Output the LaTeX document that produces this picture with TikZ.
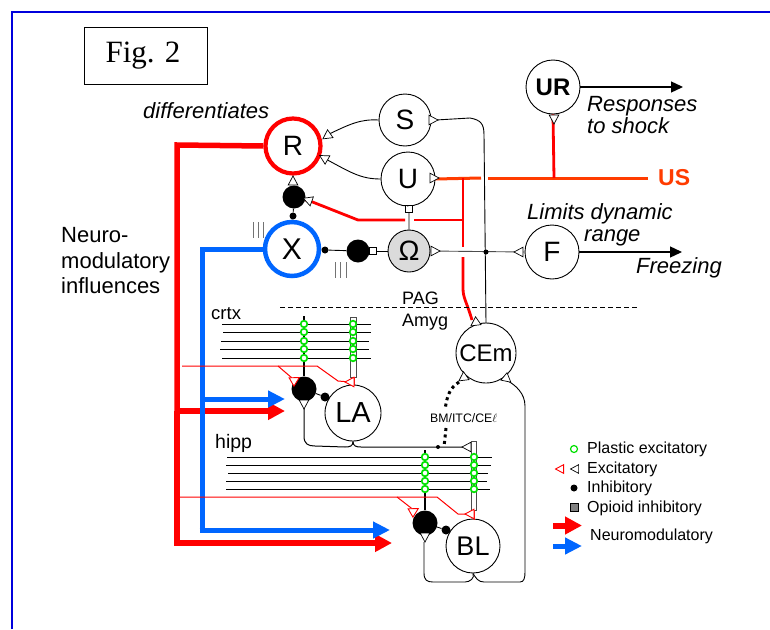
\documentclass[tikz,border=0pt]{standalone}
\usepackage{fontspec}
\setmainfont{Liberation Sans}
\newfontfamily\serifx{Liberation Serif}
\usetikzlibrary{arrows.meta}
\definecolor{nred}{RGB}{255,0,0}
\definecolor{usred}{RGB}{255,60,0}
\definecolor{nblue}{RGB}{0,102,255}
\definecolor{pgreen}{RGB}{0,225,0}
\newcommand{\fs}[1]{\fontsize{#1}{#1}\selectfont}
\tikzset{
 x=1pt,y=-1pt,
 cell/.style={circle,draw=black,line width=0.9pt,fill=white,inner sep=0pt,text=black},
 inh/.style={circle,fill=black,inner sep=0pt},
 sq/.style={rectangle,draw=black,line width=0.6pt,fill=#1,minimum size=6.5pt,inner sep=0pt},
 sq/.default=white,
 wire/.style={line width=0.9pt,black},
 fibre/.style={line width=0.9pt,black},
 usline/.style={line width=3pt,usred},
 redline/.style={line width=2.8pt,nred},
 thinred/.style={line width=1pt,nred},
 lab/.style={inner sep=0pt,anchor=west,text=black},
 tri/.pic={\draw[line width=0.7pt,draw=black,fill=white] (5,0)--(-4,-4.8)--(-4,4.8)--cycle;},
 rtri/.pic={\draw[line width=0.9pt,draw=nred,fill=white] (5,0)--(-4,-4.8)--(-4,4.8)--cycle;},
 syn/.style={circle,draw=pgreen,line width=1.7pt,fill=white,minimum size=6.6pt,inner sep=0pt},
 modr/.style={line width=6pt,nred,-{Triangle[length=17pt,width=17pt]}},
 modb/.style={line width=5pt,nblue,-{Triangle[length=17pt,width=16pt]}},
 outarrow/.style={line width=1.3pt,black,-{Triangle[length=12pt,width=11pt]}},
}
\begin{document}
\begin{tikzpicture}
\useasboundingbox (0,0) rectangle (770,629);
\fill[white] (0,0) rectangle (770,629);
% frame
\draw[line width=1.2pt,color={rgb,255:red,0;green,0;blue,220}] (12,629)--(12,12)--(770,12);
\node[draw=black,line width=0.9pt,minimum width=123pt,minimum height=57pt,inner sep=0pt,font=\serifx\fs{31}] (fig) at (145.5,55.5) {\hspace*{-5pt}Fig. 2};

% coordinates
\coordinate (RN) at (177,145);
\coordinate (BN) at (202,249);

% main cells
\node[cell,draw=nred,line width=4.2pt,minimum size=55pt,font=\fs{28}] (R) at (293,146) {R};
\node[cell,draw=nblue,line width=4.5pt,minimum size=54pt,font=\fs{30}] (X) at (292,249) {X};
\node[cell,minimum size=52pt,font=\fs{28}] (S) at (405,120) {S};
\node[cell,minimum size=54pt,font=\fs{28}] (U) at (408,179) {U};
\node[cell,fill=black!14,minimum size=42pt,font=\fs{28}] (O) at (409,251) {Ω};
\node[cell,minimum size=54pt,font=\bfseries\fs{24}] (UR) at (553,87) {UR};
\node[cell,minimum size=54pt,font=\fs{28}] (F) at (552,252) {F};
\node[cell,minimum size=60pt,font=\fs{24}] (CEm) at (486,353) {CEm};
\node[cell,minimum size=56pt,font=\fs{29}] (LA) at (353,413) {LA};
\node[cell,minimum size=54pt,font=\fs{27}] (BL) at (473,546) {BL};
\node[inh,minimum size=23pt] (I1) at (294,197) {};
\node[inh,minimum size=7pt] (i1) at (293,216) {};
\node[inh,minimum size=23pt] (I2) at (358,251) {};
\node[inh,minimum size=7pt] (i2) at (325,250) {};
\node[sq=white] (q2) at (373,251) {};
\node[sq=white] (q1) at (409,209) {};
\node[inh,minimum size=25pt] (I3) at (304,389) {};
\node[inh,minimum size=9pt] (i3) at (325,397) {};
\node[inh,minimum size=25pt] (I4) at (425,523) {};
\node[inh,minimum size=9pt] (i4) at (446,530) {};

% modulatory tracts
\draw[line width=5.5pt,nred] (R.west)--(RN)--(177,411);
\draw[line width=5pt,nblue] (X.west)--(BN)--(202,399);
\draw[line width=5.5pt,nred] (177,411)--(177,546);
\draw[modr] (174.3,543)--(392,543);
\draw[modr] (177,411)--(285,411);
\draw[line width=5pt,nblue] (202,399)--(202,530);
\draw[modb] (202,399)--(285,399);
\draw[modb] (199.5,530)--(390,530);

% thin connectors top
\draw[wire] (S.west) .. controls (360,119) and (350,124) .. (325,136);
\draw[wire] (U.west) .. controls (360,179) and (350,172) .. (322,157);
\draw[wire] (I1)--(i1)--(X.north);
\draw[wire] (X.east)--(i2)--(I2);
\draw[wire] (I2)--(q2)--(O.west);
\draw[wire] (U.south)--(q1)--(O.north);
\draw[wire] (436,120)--(470,118) .. controls (481,120) and (484,124) .. (484,135)--(486,323);
\draw[wire,black!70] (O.east)--(F.west);
\node[inh,minimum size=5pt] (jn) at (486,252) {};

% US lines
\draw[usline] (U.east)--(481,178);
\draw[usline] (488,178)--(648,178);
\draw[redline] (554,178)--(UR.south);
\draw[redline] (463,178)--(463,247);
\draw[redline] (463,257)--(463,288) .. controls (463,298) and (466,300) .. (472,320);
\draw[redline] (I1)--(310,201)--(358,220)--(405,220);
\draw[redline] (414,220)--(463,220);
\draw[outarrow] (UR.east)--(683,87);
\draw[outarrow] (F.east)--(682,252);

% triple bars
\draw[black!55,line width=0.9pt] (253,222)--(253,238) (258,222)--(258,238) (263,222)--(263,238);
\draw[black!55,line width=0.9pt] (335,262)--(335,278) (340,262)--(340,278) (346,262)--(346,278);

\draw[line width=0.9pt,black,dash pattern=on 5pt off 3pt] (280,307)--(637,307);

% crtx
\foreach \a/\b/\y in {222/371/324,223/371/332,221/369/341,220/369/349,222/371/358}
 \draw[fibre] (\a,\y)--(\b,\y);
\draw[line width=2pt,black] (304,316)--(I3);
\draw[draw=black!70,fill=white,line width=0.7pt] (350.5,317) rectangle (356,377);
\foreach \y in {324,332,341,349,358} {\node[syn] at (304,\y) {}; \node[syn] at (353,\y) {};}
\draw[thinred] (182,366)--(317,366)--(338,381)--(350,382);
\draw[thinred] (278,366)--(292,378);
\draw[thinred] (354,377)--(354,386);
\pic[rotate=30] at (295,380) {rtri};
\pic[rotate=180] at (350,382) {rtri};
\draw[wire,line width=1pt] (304,404)--(304,436) .. controls (304,444) and (308,446) .. (315,446)--(345,447) .. controls (350,447) and (353,446) .. (LA.south);
\draw[wire,line width=1pt] (LA.south) .. controls (353,446) and (356,447) .. (361,447)--(464,447);
\draw[wire] (I3)--(i3)--(LA);
\pic[rotate=-90] at (304,404) {tri};
\pic[rotate=180] at (467,447) {tri};

% hipp
\foreach \a/\b/\y in {227/492/457,226/491/465,228/488/473,226/487/481,226/490/489}
 \draw[fibre] (\a,\y)--(\b,\y);
\draw[line width=2pt,black] (425,450)--(I4);
\draw[draw=black!70,fill=white,line width=0.7pt] (471.5,441) rectangle (476.5,510);
\foreach \y in {457,465,473,481,489} {\node[syn] at (425,\y) {}; \node[syn] at (474,\y) {};}
\draw[thinred] (178,497)--(437,497)--(458,514)--(470,514);
\draw[thinred] (397,497)--(415,511);
\draw[thinred] (474,510)--(474,520);
\pic[rotate=30] at (414,511) {rtri};
\pic[rotate=180] at (470,514) {rtri};
\draw[wire] (I4)--(i4)--(BL);
\draw[wire] (424,542)--(424,573) .. controls (424,580) and (427,582) .. (433,582)--(465,582) .. controls (470,582) and (475,578) .. (BL.south);
\draw[wire] (BL.south) .. controls (476,578) and (478,582) .. (484,582)--(520,582) .. controls (524,582) and (525,578) .. (525,572)--(525,406) .. controls (525,393) and (515,385) .. (508,381);
\pic[rotate=-90] at (425,537) {tri};

% dotted
\draw[line width=3pt,black,dash pattern=on 3pt off 3.5pt] (459,382) .. controls (450,388) and (447,395) .. (445,410);
\draw[line width=3pt,black,dash pattern=on 3pt off 3.5pt] (446,428)--(444,447);
\node[inh,minimum size=4pt] (dt) at (438,447) {};

% small triangles
\pic[rotate=215] at (327,136) {tri};
\pic[rotate=150] at (324,158) {tri};
\pic[rotate=90] at (293,181) {tri};
\pic[rotate=160] at (308,200) {tri};
\pic at (433,120) {tri};
\pic at (434,178) {tri};
\pic at (435,251) {tri};
\pic[rotate=180] at (519,252) {tri};
\pic[rotate=-90] at (554,119) {tri};
\pic[rotate=215] at (475,323) {tri};
\pic[rotate=215] at (463,378) {tri};
\pic[rotate=-40] at (507,379) {tri};

% labels
\node[lab,font=\itshape\fs{22}] (t1) at (143,111) {differentiates};
\node[lab,font=\fs{22},align=left] (t2) at (61,261) {Neuro-\\[3.5pt]modulatory\\[3.5pt]influences};
\node[lab,font=\itshape\fs{22},align=left] (t3) at (587,115) {Responses\\to shock};
\node[lab,font=\bfseries\fs{23},text=usred] (t4) at (658,178) {US};
\node[lab,font=\itshape\fs{22}] (t5) at (527,214) {Limits dynamic};
\node[lab,font=\itshape\fs{22}] (t6) at (584,238) {range};
\node[lab,font=\itshape\fs{22}] (t7) at (636,268) {Freezing};
\node[lab,font=\fs{18}] (t8) at (402,298) {PAG};
\node[lab,font=\fs{18}] (t9) at (402,322) {Amyg};
\node[lab,font=\fs{18.5}] (t10) at (211,314) {crtx};
\node[lab,font=\fs{19.5}] (t11) at (215,443) {hipp};
\node[lab,font=\fs{12.3}] (t12) at (430,418) {BM/ITC/CE$\ell$};

% legend
\node[syn,line width=1.2pt,minimum size=7pt] (g1) at (574,449) {};
\node[lab,font=\fs{16}] (l1) at (587,449) {Plastic excitatory};
\pic[rotate=180,scale=0.9] at (560,469) {rtri};
\pic[rotate=180,scale=0.9] at (575,469) {tri};
\node[lab,font=\fs{16}] (l2) at (587,469) {Excitatory};
\node[inh,minimum size=7pt] (g3) at (574,488) {};
\node[lab,font=\fs{16}] (l3) at (587,488) {Inhibitory};
\node[rectangle,draw=black,fill=black!50,line width=0.6pt,minimum size=8pt,inner sep=0pt] (g4) at (574,507) {};
\node[lab,font=\fs{16}] (l4) at (587,508) {Opioid inhibitory};
\node[lab,font=\fs{16}] (l5) at (590,536) {Neuromodulatory};
\draw[modr] (553,525.5)--(582,525.5);
\draw[modb] (553,546)--(582,546);
\end{tikzpicture}
\end{document}
